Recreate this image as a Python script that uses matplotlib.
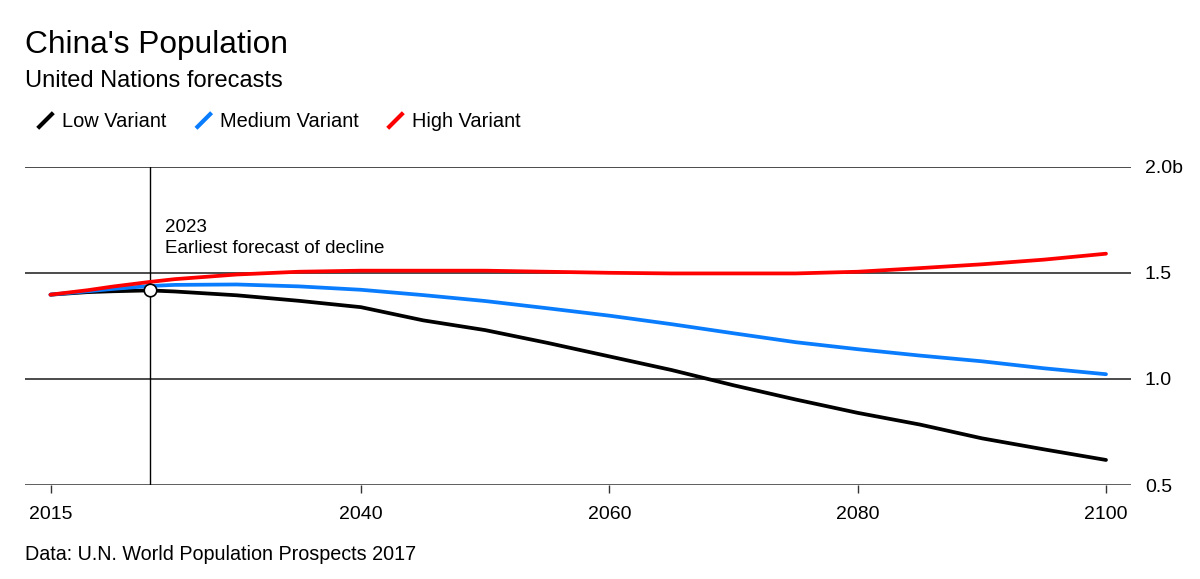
import matplotlib
matplotlib.use("Agg")
import matplotlib.pyplot as plt
from matplotlib.lines import Line2D

plt.rcParams['font.family'] = ['Liberation Sans', 'DejaVu Sans']

# ---- data (billions) ----
years = [2015, 2018, 2020, 2023, 2025, 2030, 2035, 2040, 2045, 2050,
         2055, 2060, 2065, 2070, 2075, 2080, 2085, 2090, 2095, 2100]
low = [1.397, 1.409, 1.413, 1.417, 1.412, 1.394, 1.368, 1.338, 1.276, 1.230,
       1.170, 1.106, 1.042, 0.970, 0.903, 0.840, 0.785, 0.720, 0.668, 0.618]
medium = [1.397, 1.413, 1.424, 1.438, 1.443, 1.445, 1.436, 1.420, 1.395, 1.367,
          1.333, 1.298, 1.258, 1.215, 1.173, 1.140, 1.110, 1.083, 1.050, 1.022]
high = [1.397, 1.418, 1.435, 1.457, 1.470, 1.492, 1.505, 1.510, 1.510, 1.510,
        1.505, 1.500, 1.497, 1.497, 1.497, 1.505, 1.522, 1.540, 1.562, 1.590]
series_names = ["Low Variant", "Medium Variant", "High Variant"]
colors = ["#000000", "#0a7dff", "#ff0000"]
xticks = [2015, 2040, 2060, 2080, 2100]
yticks = [0.5, 1.0, 1.5, 2.0]
ytick_labels = ["0.5", "1.0", "1.5", "2.0b"]
marker_year = 2023
marker_value = 1.417

W, H = 1200, 579
fig = plt.figure(figsize=(W / 100, H / 100), dpi=100)

def fx(px):
    return px / W

def fy(py):
    return 1 - py / H

ax_left, ax_right, ax_top, ax_bottom = 25, 1131, 166.7, 485
ax = fig.add_axes([fx(ax_left), fy(ax_bottom), (ax_right - ax_left) / W, (ax_bottom - ax_top) / H])

px_per_year = (1106 - 50.5) / 85
ax.set_xlim(2015 - (50.5 - ax_left) / px_per_year, 2100 + (ax_right - 1106) / px_per_year)
ax.set_ylim(0.5, 2.0)

for s in ax.spines.values():
    s.set_visible(False)

for yv in yticks:
    ax.axhline(yv, color="#1a1a1a" if yv > 0.5 else "#333333", lw=1.1, zorder=1)

ax.axvline(marker_year, color="#000000", lw=1.0, zorder=1)

for vals, c in zip([low, medium, high], colors):
    ax.plot(years, vals, color=c, lw=2.7, solid_capstyle="round", solid_joinstyle="round", zorder=3)

ax.plot([marker_year], [marker_value], "o", ms=9, mfc="white", mec="black", mew=1.2, zorder=5)

ax.set_xticks(xticks)
ax.set_xticklabels([str(t) for t in xticks])
ax.set_yticks(yticks)
ax.set_yticklabels(ytick_labels)
ax.tick_params(axis="x", length=6, width=1, color="#333333", labelsize=14, pad=9, labelcolor="black")
ax.tick_params(axis="y", left=False, right=False, labelleft=False, labelright=True,
               length=0, pad=10, labelsize=14, labelcolor="black")
for lab in ax.get_yticklabels():
    lab.set_horizontalalignment("left")

# annotation
fig.text(fx(165), fy(231.7), "2023", fontsize=13.5, ha="left", va="baseline")
fig.text(fx(165), fy(252.7), "Earliest forecast of decline", fontsize=13.5, ha="left", va="baseline")

# titles
fig.text(fx(25), fy(52.7), "China's Population", fontsize=22.8, ha="left", va="baseline")
fig.text(fx(25), fy(86.7), "United Nations forecasts", fontsize=17, ha="left", va="baseline")

# legend (diagonal slash markers)
legend_items = [(37.7, 61.7), (196.0, 220.0), (387.7, 411.7)]
for (sx, tx), name, c in zip(legend_items, series_names, colors):
    fig.add_artist(Line2D([fx(sx), fx(sx + 15.6)], [fy(128.3), fy(112.7)],
                          transform=fig.transFigure, color=c, lw=3.0, solid_capstyle="butt"))
    fig.text(fx(tx), fy(126.7), name, fontsize=14.4, ha="left", va="baseline")

# footer
fig.text(fx(25), fy(560), "Data: U.N. World Population Prospects 2017", fontsize=14.2, ha="left", va="baseline")

fig.savefig("out.png", dpi=100)
